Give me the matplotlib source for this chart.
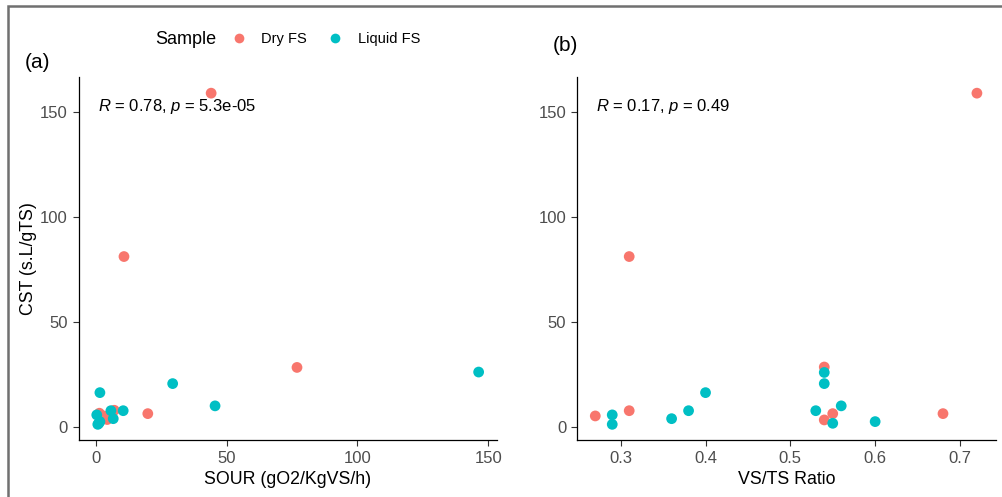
import matplotlib
matplotlib.use("Agg")
import matplotlib.pyplot as plt
from matplotlib.lines import Line2D
from matplotlib.patches import Rectangle

plt.rcParams['font.family'] = ['Liberation Sans', 'DejaVu Sans']
plt.rcParams['mathtext.fontset'] = 'custom'
plt.rcParams['mathtext.rm'] = 'Liberation Sans'
plt.rcParams['mathtext.it'] = 'Liberation Sans:italic'

# ---- data ----
dry_sour = [44.1, 10.8, 76.9, 19.9, 7.1, 4.4, 1.4, 3.0]
dry_cst_a = [158.8, 81.0, 28.2, 6.2, 7.8, 3.4, 6.4, 5.1]
liq_sour = [146.3, 45.6, 29.4, 1.6, 10.5, 5.8, 0.4, 6.7, 1.6, 0.8, 1.2]
liq_cst_a = [26.0, 9.9, 20.5, 16.2, 7.6, 7.6, 5.6, 3.8, 2.4, 1.1, 1.6]

dry_vsts = [0.72, 0.31, 0.54, 0.27, 0.31, 0.54, 0.55, 0.68]
dry_cst_b = [158.8, 81.0, 28.4, 5.1, 7.6, 3.2, 6.2, 6.2]
liq_vsts = [0.29, 0.29, 0.36, 0.38, 0.40, 0.53, 0.54, 0.54, 0.55, 0.56, 0.60]
liq_cst_b = [5.6, 1.1, 3.8, 7.6, 16.2, 7.6, 25.8, 20.5, 1.6, 9.9, 2.4]

samples = ["Dry FS", "Liquid FS"]
colors = ["#F8766D", "#00BFC4"]
stats_a = r"$\it{R}$ = 0.78, $\it{p}$ = 5.3e-05"
stats_b = r"$\it{R}$ = 0.17, $\it{p}$ = 0.49"
xticks_a = [0, 50, 100, 150]
xticks_b = [0.3, 0.4, 0.5, 0.6, 0.7]
yticks = [0, 50, 100, 150]

W, H = 1002, 497
fig = plt.figure(figsize=(W / 100, H / 100), dpi=100)

def fx(px):
    return px / W

def fy(py):
    return 1 - py / H

axA = fig.add_axes([fx(78.7), fy(440.3), fx(496.7 - 78.7), (440.3 - 77) / H])
axB = fig.add_axes([fx(577.3), fy(440.3), fx(996 - 577.3), (440.3 - 77) / H])

ms = 60
for ax, xd, yd, xl, yl, xt, xlab, st in [
    (axA, dry_sour, dry_cst_a, liq_sour, liq_cst_a, xticks_a, "SOUR (gO2/KgVS/h)", stats_a),
    (axB, dry_vsts, dry_cst_b, liq_vsts, liq_cst_b, xticks_b, "VS/TS Ratio", stats_b),
]:
    ax.scatter(xd, yd, s=ms, color=colors[0], edgecolors='none', zorder=3)
    ax.scatter(xl, yl, s=ms, color=colors[1], edgecolors='none', zorder=3)
    ax.set_xticks(xt)
    ax.set_xticklabels([f"{v:g}" for v in xt])
    ax.set_yticks(yticks)
    ax.set_ylim(-6.5, 166.5)
    for s in ['top', 'right']:
        ax.spines[s].set_visible(False)
    for s in ['left', 'bottom']:
        ax.spines[s].set_color('black')
        ax.spines[s].set_linewidth(0.9)
    ax.tick_params(axis='both', length=4, width=0.8, color='#333333',
                   labelcolor='#4D4D4D', labelsize=12, pad=4)
    ax.set_xlabel(xlab, fontsize=12.8, color='black', labelpad=3)
    ax.text(0.045, 0.92, st, transform=ax.transAxes, fontsize=12,
            va='center', ha='left', color='black')

axA.set_xlim(-6.5, 153.2)
axB.set_xlim(0.2488, 0.7425)
axA.set_ylabel("CST (s.L/gTS)", fontsize=12.8, color='black', labelpad=2)

fig.text(fx(25), fy(62), "(a)", fontsize=15, va='center', ha='left')
fig.text(fx(553), fy(46), "(b)", fontsize=15, va='center', ha='left')

# legend
fig.text(fx(155), fy(39.3), "Sample", fontsize=13, va='center', ha='left')
handles = [Line2D([], [], marker='o', linestyle='none', markersize=7,
                  markerfacecolor=c, markeredgecolor='none') for c in colors]
fig.legend(handles, samples, ncol=2, loc='center left',
           bbox_to_anchor=(fx(224), fy(39.3)), frameon=False, fontsize=10.5,
           handletextpad=0.55, columnspacing=0.95, borderaxespad=0, borderpad=0)

# figure border (cropped image frame)
fig.add_artist(Rectangle((fx(8), -0.2), 1.5, fy(6) + 0.2, transform=fig.transFigure,
                         fill=False, edgecolor='#707070', linewidth=1.8))

fig.savefig("out.png", dpi=100)
